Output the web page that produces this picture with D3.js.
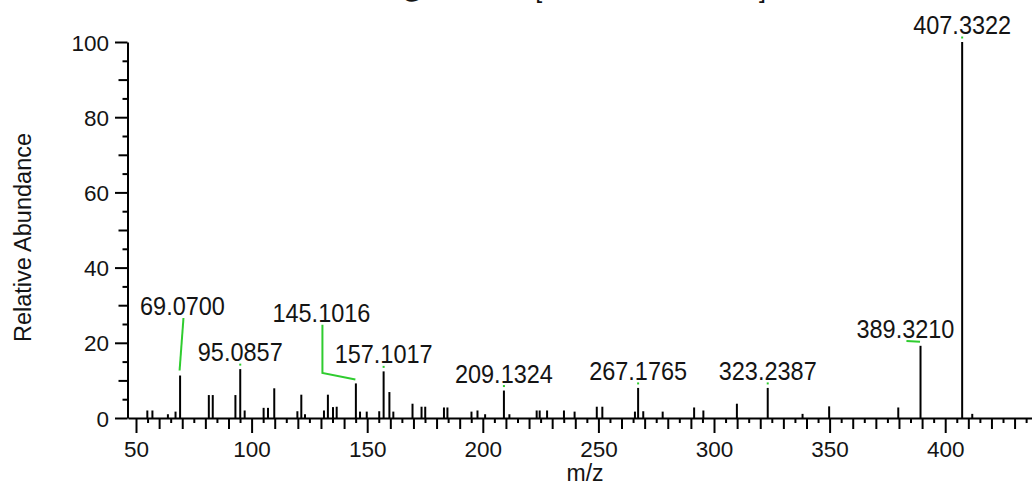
<!DOCTYPE html>
<html>
<head>
<meta charset="utf-8">
<script src="https://cdn.jsdelivr.net/npm/d3@7"></script>
<style>
  html, body { margin: 0; padding: 0; background: #fff; }
  svg { display: block; }
  text { font-family: "Liberation Sans", Arial, sans-serif; fill: #141414; }
</style>
</head>
<body>
<svg id="chart" width="1032" height="487"></svg>
<script>
// ---------- data ----------
const titleText = "Full ms2 407.3322@hcd35.00 [100.0000-420.0000]";
const xTitle = "m/z";
const yTitle = "Relative Abundance";

const mzValues = [54.9, 57.1, 63.8, 67.1, 69.07, 81.5, 83.2, 93.0, 95.0857, 97.0,
  105.2, 107.1, 109.8, 119.8, 121.5, 123.1, 131.3, 133.0, 135.2, 136.8,
  145.1016, 146.9, 149.8, 155.2, 157.1017, 159.6, 161.3, 169.6, 173.5, 175.1,
  183.2, 184.7, 195.1, 197.7, 201.0, 209.1324, 211.5, 223.3, 224.6, 227.8,
  235.1, 239.7, 249.3, 251.7, 265.8, 267.1765, 269.4, 277.8, 291.4, 295.4,
  309.9, 323.2387, 338.3, 349.8, 379.7, 389.321, 407.3322, 411.7];
const abundance = [2.0, 2.0, 1.0, 1.7, 11.3, 6.1, 6.1, 6.1, 13.0, 2.0,
  2.7, 2.7, 7.9, 1.8, 6.2, 1.0, 2.0, 6.2, 2.9, 3.0,
  9.2, 1.7, 1.7, 1.8, 12.4, 6.9, 1.7, 3.8, 3.0, 3.0,
  2.8, 2.8, 1.7, 2.0, 1.0, 7.3, 1.0, 2.0, 2.0, 2.0,
  2.0, 1.7, 3.0, 3.0, 1.7, 8.0, 1.8, 1.7, 2.8, 2.0,
  3.8, 8.0, 1.1, 3.1, 2.8, 19.2, 100, 1.1];

// labelled peaks
const labelTexts = ["69.0700", "95.0857", "145.1016", "157.1017", "209.1324", "267.1765", "323.2387", "389.3210", "407.3322"];
const labelPeakMz = [69.07, 95.0857, 145.1016, 157.1017, 209.1324, 267.1765, 323.2387, 389.321, 407.3322];
// displaced labels (data coordinates of label centre / baseline); null = directly above the peak
const labelPosMz = [70.1, null, 130.2, null, null, null, null, 382.8, null];
const labelPosAb = [27.4, null, 25.6, null, null, null, null, 21.3, null];
const labelElbowAb = [null, null, 12.0, null, null, null, null, null, null];

const xMajorTicks = [50, 100, 150, 200, 250, 300, 350, 400];
const yMajorTicks = [0, 20, 40, 60, 80, 100];

// ---------- scales ----------
const svg = d3.select("#chart");
const x = d3.scaleLinear().domain([46.54, 437.54]).range([128, 1032]);
const y = d3.scaleLinear().domain([0, 100]).range([418, 42]);

const xMedium = d3.range(50, 440, 10).filter(v => v % 50 !== 0);
const xMinor = d3.range(50, 440, 5).filter(v => v % 10 !== 0);
const yMedium = d3.range(10, 101, 20);
const yMinor = d3.range(5, 101, 10);

function styleAxis(g) {
  g.selectAll("path.domain").attr("stroke", "#000").attr("stroke-width", 2);
  g.selectAll(".tick line").attr("stroke", "#000").attr("stroke-width", 2);
}

// x axis: minor / medium / major
svg.append("g").attr("transform", "translate(0,418)")
  .call(d3.axisBottom(x).tickValues(xMinor).tickSize(5).tickFormat("").tickSizeOuter(0))
  .call(g => g.select(".domain").remove()).call(styleAxis);
svg.append("g").attr("transform", "translate(0,418)")
  .call(d3.axisBottom(x).tickValues(xMedium).tickSize(11).tickFormat("").tickSizeOuter(0))
  .call(g => g.select(".domain").remove()).call(styleAxis);
const xAx = svg.append("g").attr("transform", "translate(0,418)")
  .call(d3.axisBottom(x).tickValues(xMajorTicks).tickSize(15).tickSizeOuter(0).tickPadding(7))
  .call(styleAxis);
xAx.selectAll(".tick text")
  .attr("font-size", 22.5).attr("fill", "#141414")
  .attr("font-family", "Liberation Sans, Arial, sans-serif")
  .attr("dy", null).attr("y", 38.5);

// y axis
svg.append("g").attr("transform", "translate(127.5,0)")
  .call(d3.axisLeft(y).tickValues(yMinor).tickSize(5).tickFormat("").tickSizeOuter(0))
  .call(g => g.select(".domain").remove()).call(styleAxis);
svg.append("g").attr("transform", "translate(127.5,0)")
  .call(d3.axisLeft(y).tickValues(yMedium).tickSize(9).tickFormat("").tickSizeOuter(0))
  .call(g => g.select(".domain").remove()).call(styleAxis);
const yAx = svg.append("g").attr("transform", "translate(127.5,0)")
  .call(d3.axisLeft(y).tickValues(yMajorTicks).tickSize(12.5).tickSizeOuter(0).tickPadding(6))
  .call(styleAxis);
yAx.selectAll(".tick text")
  .attr("font-size", 22.5).attr("fill", "#141414")
  .attr("font-family", "Liberation Sans, Arial, sans-serif")
  .attr("dy", "0.36em");

// ---------- bars ----------
const peaks = mzValues.map((m, i) => ({ mz: m, ab: abundance[i] }));
svg.append("g").selectAll("line").data(peaks).enter().append("line")
  .attr("x1", d => x(d.mz)).attr("x2", d => x(d.mz))
  .attr("y1", y(0)).attr("y2", d => y(d.ab))
  .attr("stroke", "#000").attr("stroke-width", 2);

// ---------- labels and leaders ----------
const labels = labelTexts.map((t, i) => {
  const ab = abundance[mzValues.indexOf(labelPeakMz[i])];
  return { text: t, mz: labelPeakMz[i], ab: ab,
    lmz: labelPosMz[i], lab: labelPosAb[i], elbow: labelElbowAb[i] };
});
const green = "#2fcc2f";
const lg = svg.append("g");
function addLabel(tx, ty, t) {
  lg.append("text").attr("transform", `translate(${tx},${ty}) scale(0.94,1)`)
    .attr("text-anchor", "middle").attr("font-size", 25).text(t);
}
labels.forEach(d => {
  const px = x(d.mz), py = y(d.ab);
  if (d.lmz === null) {
    lg.append("line").attr("x1", px).attr("x2", px)
      .attr("y1", py - 5.5).attr("y2", py - 3.5)
      .attr("stroke", green).attr("stroke-width", 2);
    addLabel(px, py - 8, d.text);
  } else {
    const lx = x(d.lmz), ly = y(d.lab);
    const pts = [[lx + 1, ly + 3]];
    if (d.elbow !== null) pts.push([lx + 1, y(d.elbow)]);
    pts.push([px - 0.5, py - (d.elbow !== null || d.ab > 15 ? 4 : 5)]);
    lg.append("path").attr("d", d3.line()(pts))
      .attr("fill", "none").attr("stroke", green).attr("stroke-width", 2);
    addLabel(lx, ly, d.text);
  }
});

// ---------- titles ----------
svg.append("text").attr("x", 766).attr("y", -2).attr("text-anchor", "end")
  .attr("font-size", 25).text(titleText);
svg.append("text").attr("x", 585).attr("y", 481).attr("text-anchor", "middle")
  .attr("font-size", 23).text(xTitle);
svg.append("text").attr("transform", "translate(31,237.5) rotate(-90)")
  .attr("text-anchor", "middle").attr("font-size", 23.5).text(yTitle);
</script>
</body>
</html>
